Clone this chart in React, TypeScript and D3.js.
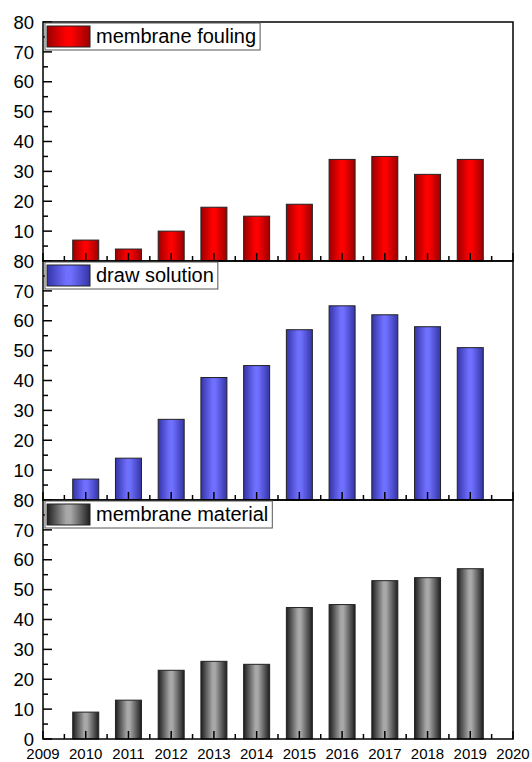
import React, { useEffect, useRef } from "react";
import * as d3 from "d3";

const years = [2010, 2011, 2012, 2013, 2014, 2015, 2016, 2017, 2018, 2019];
const foulingValues = [7, 4, 10, 18, 15, 19, 34, 35, 29, 34];
const drawSolutionValues = [7, 14, 27, 41, 45, 57, 65, 62, 58, 51];
const materialValues = [9, 13, 23, 26, 25, 44, 45, 53, 54, 57];
const seriesNames = ["membrane fouling", "draw solution", "membrane material"];
const yTicks = [0, 10, 20, 30, 40, 50, 60, 70, 80];
const xTicks = [2009, 2010, 2011, 2012, 2013, 2014, 2015, 2016, 2017, 2018, 2019, 2020];

const W = 532;
const H = 762;
const FONT = "Arial, 'Liberation Sans', sans-serif";

// edge, centre colours of the bar shading
const shades = [
  { edge: "#9a0000", mid: "#ff0000" },
  { edge: "#3434a8", mid: "#7070ff" },
  { edge: "#1e1e1e", mid: "#a8a8a8" },
];

export default function App() {
  const ref = useRef<SVGSVGElement>(null);

  useEffect(() => {
    if (!ref.current) return;
    const svg = d3.select(ref.current);
    svg.selectAll("*").remove();

    const left = 43;
    const right = 513;
    const top = 22;
    const panelH = 239;
    const allValues = [foulingValues, drawSolutionValues, materialValues];

    const x = d3.scaleLinear().domain([2009, 2020]).range([left, right]);
    const barW = 26;

    const defs = svg.append("defs");
    shades.forEach((s, i) => {
      const g = defs
        .append("linearGradient")
        .attr("id", `shade-${i}`)
        .attr("x1", "0%")
        .attr("x2", "100%")
        .attr("y1", "0%")
        .attr("y2", "0%");
      g.append("stop").attr("offset", "0%").attr("stop-color", s.edge);
      g.append("stop").attr("offset", "45%").attr("stop-color", s.mid);
      g.append("stop").attr("offset", "55%").attr("stop-color", s.mid);
      g.append("stop").attr("offset", "100%").attr("stop-color", s.edge);
    });

    allValues.forEach((values, p) => {
      const y0 = top + p * panelH;
      const y1 = y0 + panelH;
      const y = d3.scaleLinear().domain([0, 80]).range([y1, y0]);
      const g = svg.append("g");

      // bars
      g.selectAll("rect.bar")
        .data(values)
        .join("rect")
        .attr("class", "bar")
        .attr("x", (_, i) => x(years[i]) - barW / 2)
        .attr("y", (d) => y(d))
        .attr("width", barW)
        .attr("height", (d) => y(0) - y(d))
        .attr("fill", `url(#shade-${p})`)
        .attr("stroke", "#222")
        .attr("stroke-width", 1);

      // x ticks (inward)
      xTicks.forEach((t) => {
        g.append("line")
          .attr("x1", x(t))
          .attr("x2", x(t))
          .attr("y1", y1)
          .attr("y2", y1 - 8)
          .attr("stroke", "#000")
          .attr("stroke-width", 1.5);
        if (t < 2020) {
          g.append("line")
            .attr("x1", x(t + 0.5))
            .attr("x2", x(t + 0.5))
            .attr("y1", y1)
            .attr("y2", y1 - 5)
            .attr("stroke", "#000")
            .attr("stroke-width", 1.5);
        }
      });

      // y ticks (inward)
      yTicks.forEach((t) => {
        g.append("line")
          .attr("x1", left)
          .attr("x2", left + 9)
          .attr("y1", y(t))
          .attr("y2", y(t))
          .attr("stroke", "#000")
          .attr("stroke-width", 1.5);
        if (t < 80) {
          g.append("line")
            .attr("x1", left)
            .attr("x2", left + 5)
            .attr("y1", y(t + 5))
            .attr("y2", y(t + 5))
            .attr("stroke", "#000")
            .attr("stroke-width", 1.5);
        }
      });

      // y labels (0 only on the last panel)
      g.selectAll("text.ylab")
        .data(yTicks.filter((t) => t > 0 || p === 2))
        .join("text")
        .attr("class", "ylab")
        .attr("x", 34)
        .attr("y", (d) => y(d))
        .attr("dy", "0.36em")
        .attr("text-anchor", "end")
        .attr("font-family", FONT)
        .attr("font-size", 18.5)
        .attr("fill", "#000")
        .text((d) => d);

      // frame
      g.append("rect")
        .attr("x", left)
        .attr("y", y0)
        .attr("width", right - left)
        .attr("height", panelH)
        .attr("fill", "none")
        .attr("stroke", "#000")
        .attr("stroke-width", 1.5);

      // legend
      const lg = g.append("g");
      const box = lg
        .append("rect")
        .attr("x", 45)
        .attr("y", y0 + 1)
        .attr("height", 27)
        .attr("fill", "#fff")
        .attr("stroke", "#555")
        .attr("stroke-width", 1);
      lg.append("rect")
        .attr("x", 47)
        .attr("y", y0 + 4)
        .attr("width", 43)
        .attr("height", 21)
        .attr("fill", `url(#shade-${p})`)
        .attr("stroke", "#222")
        .attr("stroke-width", 1);
      const txt = lg
        .append("text")
        .attr("x", 96)
        .attr("y", y0 + 21)
        .attr("font-family", FONT)
        .attr("font-size", 20)
        .attr("fill", "#000")
        .text(seriesNames[p]);
      const tw = (txt.node() as SVGTextElement).getComputedTextLength();
      box.attr("width", 96 + tw + 4 - 45);
    });

    // x labels
    svg
      .append("g")
      .selectAll("text")
      .data(xTicks)
      .join("text")
      .attr("x", (d) => x(d))
      .attr("y", 759)
      .attr("text-anchor", "middle")
      .attr("font-family", FONT)
      .attr("font-size", 15)
      .attr("fill", "#000")
      .text((d) => d);
  }, []);

  return (
    <svg
      ref={ref}
      width={W}
      height={H}
      style={{ position: "absolute", left: 0, top: 0, background: "#fff" }}
    />
  );
}
